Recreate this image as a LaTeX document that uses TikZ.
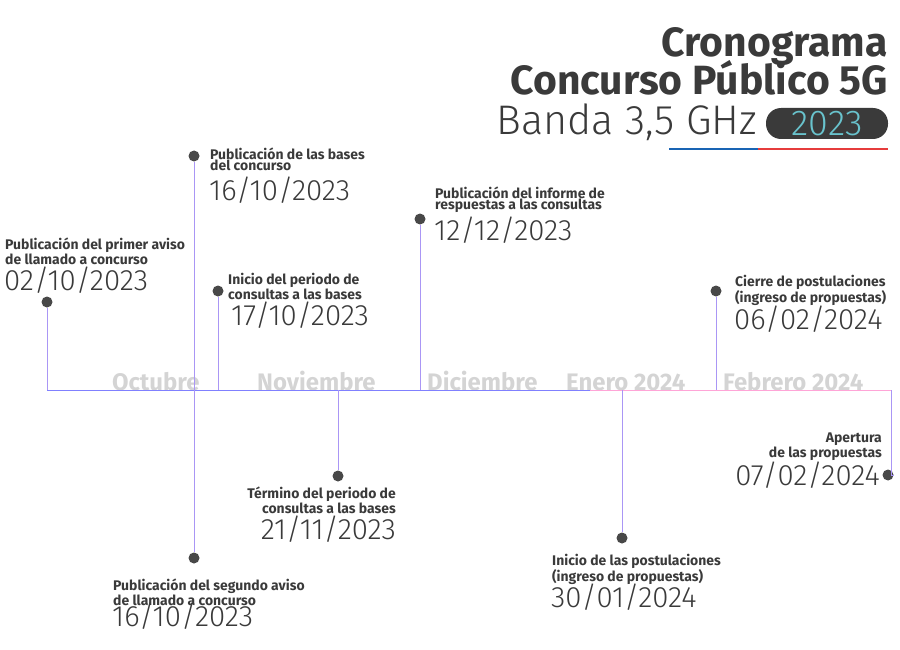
\documentclass[tikz,border=0pt]{standalone}
\usepackage{fontspec}
\setmainfont{Fira Sans}
\newfontfamily\ligera{Fira Sans}[UprightFont=* Light]
\usetikzlibrary{positioning}
\definecolor{texto}{RGB}{58,58,58}
\definecolor{punto}{RGB}{72,72,72}
\definecolor{azuleje}{RGB}{128,128,255}
\definecolor{rosaeje}{RGB}{255,165,215}
\definecolor{tallocol}{RGB}{170,150,245}
\definecolor{mesgris}{RGB}{212,212,212}
\definecolor{cian}{RGB}{105,195,205}
\definecolor{azulgob}{RGB}{25,100,180}
\definecolor{rojogob}{RGB}{230,60,60}
\tikzset{
  punto/.style={circle,fill=punto,inner sep=0pt,minimum size=11bp},
  evento/.style={font=\fontsize{14}{11}\selectfont\bfseries,text=texto,inner sep=0pt},
  fecha/.style={font=\ligera\fontsize{29.5}{29.5}\selectfont,text=texto,inner sep=0pt},
  mes/.style={font=\fontsize{24}{24}\selectfont\bfseries,text=mesgris,inner sep=0pt,anchor=base west},
  titulo/.style={anchor=base east,font=\fontsize{41}{41}\selectfont\bfseries,text=texto,inner sep=0pt},
  tallo/.style={draw=tallocol,line width=0.9bp},
}

\begin{document}
\begin{tikzpicture}[x=1bp,y=-1bp]
    \useasboundingbox (0,0) rectangle (900,650);

    % titulo
    \node[titulo] (tit1) at (888,57) {Cronograma};
    \node[titulo] (tit2) at (888,95) {Concurso Público 5G};
    \node[fill=texto,rounded corners=15bp,minimum width=122bp,minimum height=31bp,inner sep=0pt,text=cian,font=\ligera\fontsize{36}{36}\selectfont] (anio) at (827,123.5) {2023};
    \node[titulo,font=\ligera\fontsize{41.5}{41.5}\selectfont] (tit3) at (757,135) {Banda 3,5 GHz};
    \draw[azulgob,line width=2.5bp] (669,149) -- (758,149);
    \draw[rojogob,line width=2.5bp] (758,149) -- (888,149);

    % eje
    \coordinate (eje0) at (47,390);
    \coordinate (eje1) at (590,390);
    \coordinate (eje2) at (891,390);

    % meses
    \node[mes] (oct) at (112,390) {Octubre};
    \node[mes] (nov) at (257,390) {Noviembre};
    \node[mes] (dic) at (427,390) {Diciembre};
    \node[mes] (ene) at (566,390) {Enero 2024};
    \node[mes] (feb) at (723,390) {Febrero 2024};

    \draw[azuleje,line width=1bp] (eje0) -- (eje1);
    \draw[rosaeje,line width=1bp] (eje1) -- (eje2);

    % hitos arriba
    \node[punto] (p1) at (47,302) {};
    \node[punto] (p2) at (194,156) {};
    \node[punto] (p3) at (218,291) {};
    \node[punto] (p4) at (420,219) {};
    \node[punto] (p5) at (716,291) {};
    % hitos abajo
    \node[punto] (p6) at (194,558) {};
    \node[punto] (p7) at (338,476) {};
    \node[punto] (p8) at (622,538) {};
    \node[punto] (p9) at (888,475) {};

    \foreach \p in {p1,p2,p3,p4,p5,p6,p7,p8}
      \draw[tallo] (\p) -- (\p |- eje0);
    \draw[tallo] (eje2) -- (eje2 |- p9) -- (p9);

    % textos
    \node[evento,anchor=north west,align=left] (t1) at (5,238) {Publicación del primer aviso\\de llamado a concurso};
    \node[fecha,anchor=base west] (f1) at (4,290) {02/10/2023};
    \node[evento,anchor=north west,align=left] (t2) at (210,148) {Publicación de las bases\\del concurso};
    \node[fecha,anchor=base west] (f2) at (209,200) {16/10/2023};
    \node[evento,anchor=north west,align=left] (t3) at (228,273) {Inicio del periodo de\\consultas a las bases};
    \node[fecha,anchor=base west] (f3) at (231,325) {17/10/2023};
    \node[evento,anchor=north west,align=left] (t4) at (435,187) {Publicación del informe de\\respuestas a las consultas};
    \node[fecha,anchor=base west] (f4) at (434,240) {12/12/2023};
    \node[evento,anchor=north west,align=left] (t5) at (735,275) {Cierre de postulaciones\\(ingreso de propuestas)};
    \node[fecha,anchor=base west] (f5) at (734,329) {06/02/2024};
    \node[evento,anchor=north west,align=left] (t6) at (113,579) {Publicación del segundo aviso\\de llamado a concurso};
    \node[fecha,anchor=base west] (f6) at (112,626) {16/10/2023};
    \node[evento,anchor=north east,align=right] (t7) at (396,487) {Término del periodo de\\consultas a las bases};
    \node[fecha,anchor=base east] (f7) at (396,539) {21/11/2023};
    \node[evento,anchor=north west,align=left] (t8) at (552,554) {Inicio de las postulaciones\\(ingreso de propuestas)};
    \node[fecha,anchor=base west] (f8) at (551,607) {30/01/2024};
    \node[evento,anchor=north east,align=right] (t9) at (882,433) {Apertura\\de las propuestas};
    \node[fecha,anchor=base east] (f9) at (880,485) {07/02/2024};
\end{tikzpicture}
\end{document}
